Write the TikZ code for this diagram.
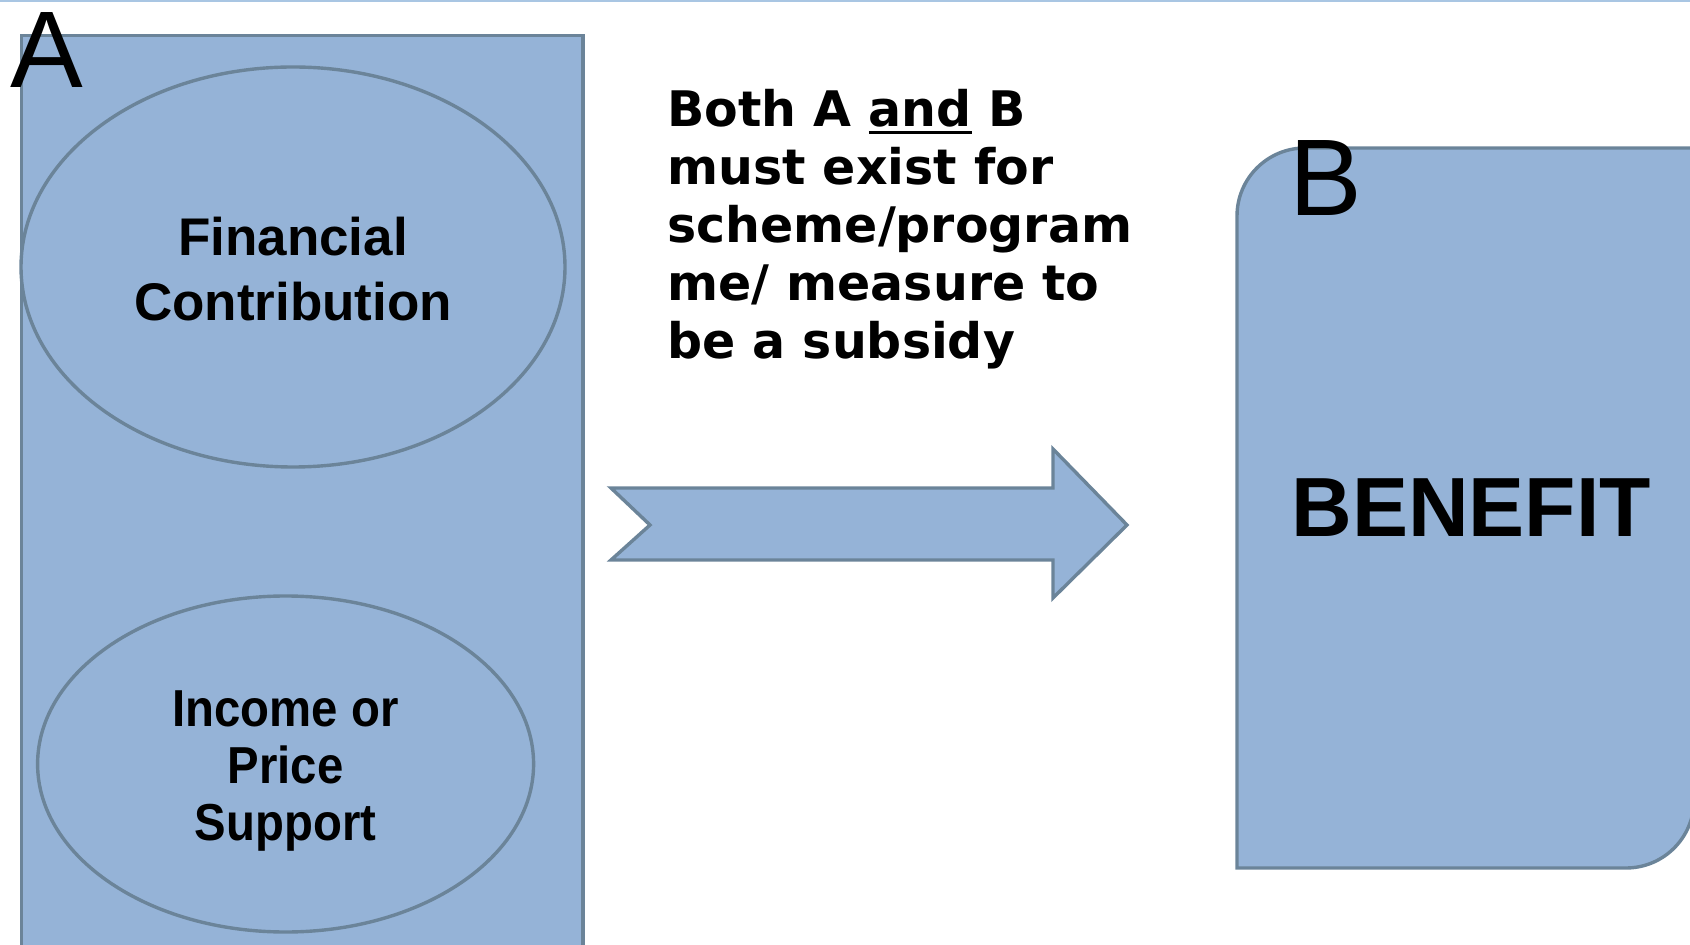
\documentclass[tikz,border=0pt]{standalone}
\usepackage{graphicx}
\usepackage{fontspec}
\setmainfont{Liberation Sans}
\newfontfamily\dvsans{DejaVu Sans}
\usetikzlibrary{shapes.geometric}
\definecolor{boxfill}{HTML}{95B3D7}
\definecolor{boxline}{HTML}{6B8499}
\definecolor{topline}{HTML}{A9C6E3}
% heavy underline drawn as a rule under the word
\newcommand\heavyul[1]{\leavevmode\setbox0\hbox{#1}\rlap{\rule[-3.6pt]{\wd0}{1.6pt}}\box0\relax}
% horizontally condensed line
\newcommand\narrowline[1]{\scalebox{0.91}[1]{#1}}
\begin{document}
\begin{tikzpicture}[x=0.5pt,y=-0.5pt,
  shapestyle/.style={fill=boxfill,draw=boxline,line width=1.7pt,line join=miter},
  oval/.style={shapestyle,ellipse,inner sep=0pt},
  ovaltext/.style={inner sep=0pt,align=center},
  bigletter/.style={inner sep=0pt,anchor=base west,font=\fontsize{54.5pt}{60pt}\selectfont},
]
\useasboundingbox (0,0) rectangle (1690,945);
\clip (0,0) rectangle (1690,945);
\draw[topline,line width=0.8pt] (0,1) -- (1690,1);

% frame A with its two ovals
\draw[shapestyle] (21.5,990) -- (21.5,35.5) -- (583,35.5) -- (583,990);
\node[oval,minimum width=272pt,minimum height=200pt] (fin) at (293,267) {};
\node[ovaltext,font=\bfseries\fontsize{26.5pt}{32.5pt}\selectfont] (fintext)
  at ([yshift=-1.2pt]fin.center) {Financial\\Contribution};
\node[oval,minimum width=248pt,minimum height=168pt] (inc) at (285.6,764) {};
\node[ovaltext,font=\bfseries\fontsize{26pt}{28.5pt}\selectfont] (inctext)
  at ([yshift=-3.3pt]inc.center)
  {\narrowline{Income or}\\\narrowline{Price}\\\narrowline{Support}};
\node[bigletter] (la) at (10,88) {A};

% statement
\node[inner sep=0pt,anchor=base west,align=left,
  font=\dvsans\bfseries\fontsize{24.5pt}{29pt}\selectfont] (note) at (667,359)
  {Both A \heavyul{and} B\\must exist for\\scheme/program\\me/ measure to\\be a subsidy};

% notched arrow
\draw[shapestyle] (611,488) -- (1053,488) -- (1053,449) -- (1127,525)
  -- (1053,598) -- (1053,560) -- (611,560) -- (650,525) -- cycle;

% box B with two rounded corners
\draw[shapestyle] (1237,868) -- (1237,216) arc[start angle=180,end angle=270,radius=68]
  -- (1694,148) -- (1694,800) arc[start angle=0,end angle=90,radius=68] -- cycle;
\node[bigletter] (lb) at (1289,216) {B};
\node[inner sep=0pt,font=\bfseries\fontsize{42pt}{48pt}\selectfont] (ben) at (1471,508) {BENEFIT};
\end{tikzpicture}
\end{document}
